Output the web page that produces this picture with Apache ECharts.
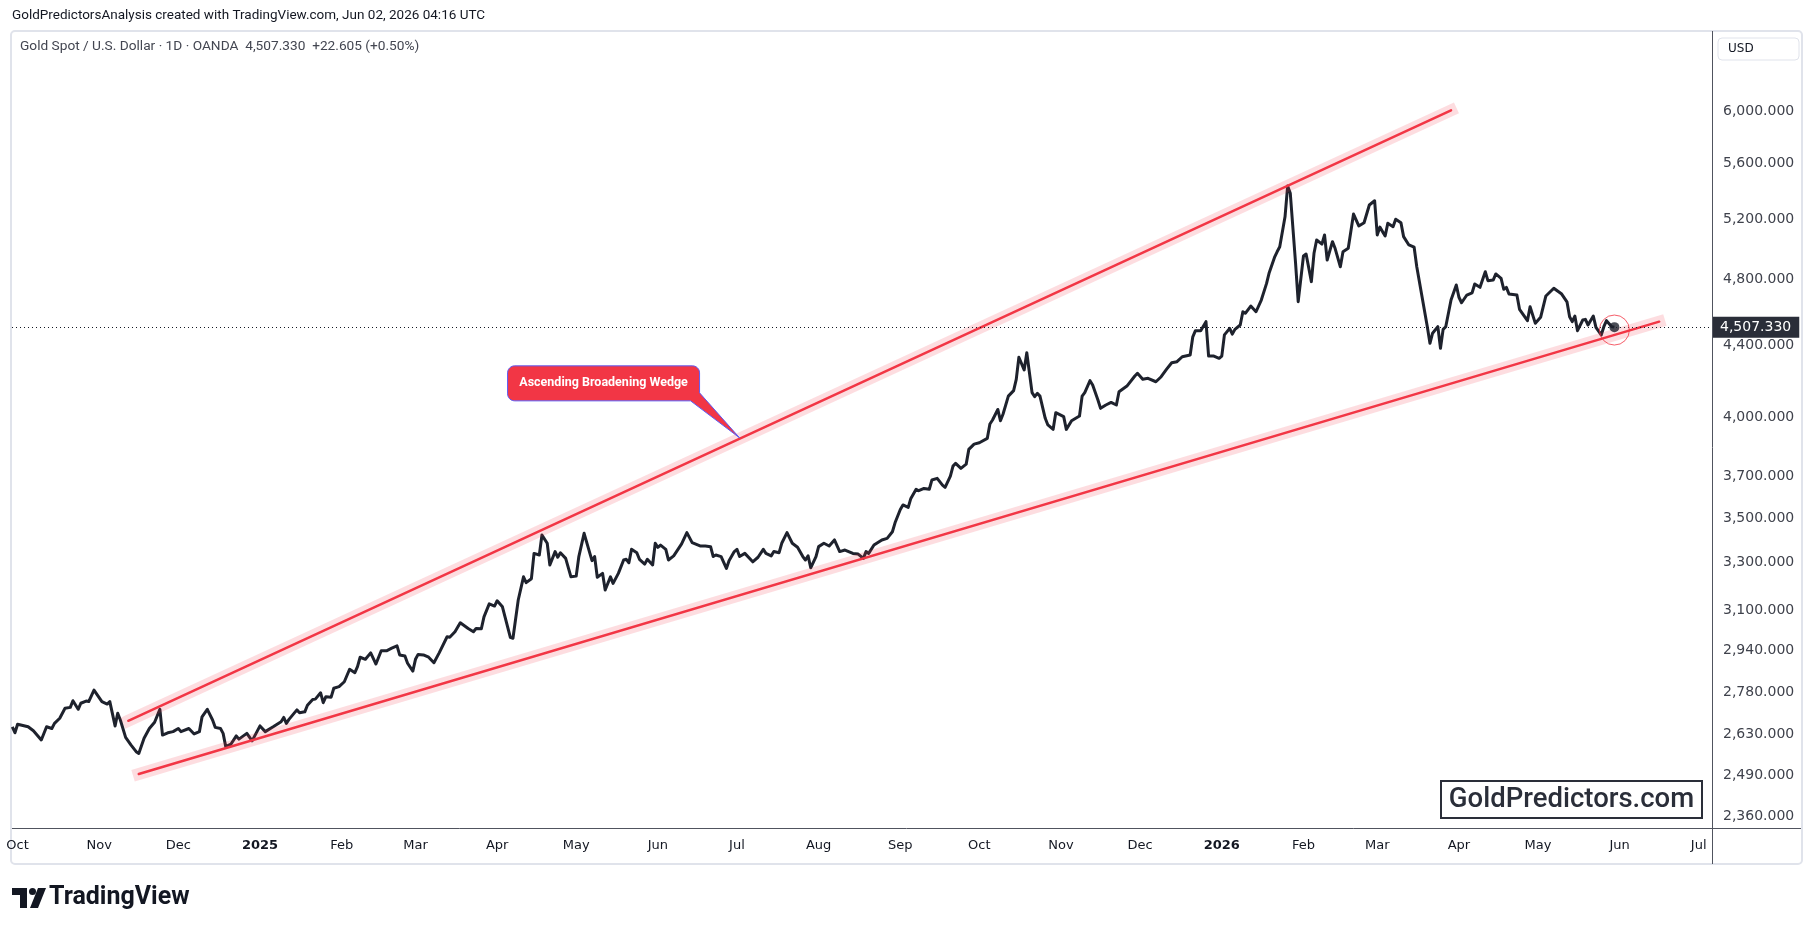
<!DOCTYPE html>
<html>
<head>
<meta charset="utf-8">
<title>Gold Spot / U.S. Dollar</title>
<script src="https://cdn.jsdelivr.net/npm/echarts@6.0.0/dist/echarts.min.js"></script>
<style>
  html, body { margin: 0; padding: 0; background: #ffffff; }
  #chart { width: 1814px; height: 932px; }
</style>
</head>
<body>
<div id="chart"></div>
<script>
// daily close (log price scale)
const dates = [
  '2024-09-29','2024-09-30','2024-10-01','2024-10-05','2024-10-07','2024-10-10','2024-10-12','2024-10-14','2024-10-15','2024-10-17',
  '2024-10-19','2024-10-21','2024-10-22','2024-10-24','2024-10-25','2024-10-27','2024-10-28','2024-10-30','2024-11-02','2024-11-04',
  '2024-11-05','2024-11-07','2024-11-08','2024-11-09','2024-11-11','2024-11-13','2024-11-15','2024-11-16','2024-11-18','2024-11-20',
  '2024-11-22','2024-11-24','2024-11-25','2024-11-27','2024-11-29','2024-12-01','2024-12-02','2024-12-05','2024-12-07','2024-12-09',
  '2024-12-10','2024-12-12','2024-12-14','2024-12-15','2024-12-17','2024-12-18','2024-12-19','2024-12-21','2024-12-23','2024-12-24',
  '2024-12-27','2024-12-29',
  '2025-01-01','2025-01-03','2025-01-06','2025-01-09','2025-01-10','2025-01-11','2025-01-12','2025-01-15','2025-01-16','2025-01-18',
  '2025-01-19','2025-01-21','2025-01-22','2025-01-24','2025-01-25','2025-01-26','2025-01-28','2025-01-29','2025-01-31','2025-02-02',
  '2025-02-04','2025-02-06','2025-02-07','2025-02-08','2025-02-10','2025-02-12','2025-02-14','2025-02-16','2025-02-18','2025-02-20',
  '2025-02-22','2025-02-23','2025-02-25','2025-02-26','2025-02-28','2025-03-01','2025-03-02','2025-03-04','2025-03-06','2025-03-08',
  '2025-03-10','2025-03-13','2025-03-14','2025-03-16','2025-03-18','2025-03-21','2025-03-23','2025-03-24','2025-03-26','2025-03-27',
  '2025-03-29','2025-03-31','2025-04-01','2025-04-03','2025-04-06','2025-04-07','2025-04-09','2025-04-11','2025-04-12','2025-04-14',
  '2025-04-15','2025-04-17','2025-04-18','2025-04-20','2025-04-21','2025-04-23','2025-04-24','2025-04-25','2025-04-27','2025-04-29',
  '2025-05-01','2025-05-02','2025-05-04','2025-05-06','2025-05-07','2025-05-08','2025-05-09','2025-05-11','2025-05-12','2025-05-14',
  '2025-05-15','2025-05-17','2025-05-19','2025-05-20','2025-05-21','2025-05-22','2025-05-24','2025-05-25','2025-05-27','2025-05-28',
  '2025-05-30','2025-05-31','2025-06-01','2025-06-02','2025-06-04','2025-06-05','2025-06-07','2025-06-10','2025-06-12','2025-06-14',
  '2025-06-17','2025-06-19','2025-06-21','2025-06-22','2025-06-23','2025-06-25','2025-06-27','2025-06-28','2025-06-30','2025-07-01',
  '2025-07-02','2025-07-04','2025-07-07','2025-07-09','2025-07-11','2025-07-12','2025-07-14','2025-07-15','2025-07-17','2025-07-18',
  '2025-07-20','2025-07-22','2025-07-24','2025-07-26','2025-07-27','2025-07-28','2025-07-29','2025-07-31','2025-08-01','2025-08-03',
  '2025-08-05','2025-08-07','2025-08-09','2025-08-11','2025-08-14','2025-08-16','2025-08-18','2025-08-19','2025-08-20','2025-08-22',
  '2025-08-25','2025-08-27','2025-08-29','2025-08-30','2025-09-01','2025-09-02','2025-09-04','2025-09-05','2025-09-07','2025-09-08',
  '2025-09-10','2025-09-12','2025-09-13','2025-09-15','2025-09-17','2025-09-18','2025-09-20','2025-09-21','2025-09-22','2025-09-24',
  '2025-09-26','2025-09-27','2025-09-29','2025-10-01','2025-10-04','2025-10-05','2025-10-06','2025-10-08','2025-10-09','2025-10-10',
  '2025-10-12','2025-10-14','2025-10-15','2025-10-16','2025-10-18','2025-10-19','2025-10-21','2025-10-22','2025-10-23','2025-10-24',
  '2025-10-26','2025-10-27','2025-10-29','2025-10-30','2025-11-02','2025-11-03','2025-11-05','2025-11-08','2025-11-09','2025-11-10',
  '2025-11-12','2025-11-13','2025-11-15','2025-11-16','2025-11-18','2025-11-20','2025-11-22','2025-11-23','2025-11-26','2025-11-29',
  '2025-11-30','2025-12-02','2025-12-04','2025-12-07','2025-12-09','2025-12-11','2025-12-13','2025-12-15','2025-12-17','2025-12-20',
  '2025-12-21','2025-12-22','2025-12-24','2025-12-26','2025-12-27','2025-12-29','2025-12-31',
  '2026-01-01','2026-01-02','2026-01-04','2026-01-05','2026-01-06','2026-01-08','2026-01-09','2026-01-10','2026-01-12','2026-01-14',
  '2026-01-16','2026-01-18','2026-01-19','2026-01-21','2026-01-22','2026-01-23','2026-01-25','2026-01-26','2026-01-27','2026-01-29',
  '2026-01-30','2026-02-01','2026-02-02','2026-02-04','2026-02-05','2026-02-06','2026-02-08','2026-02-09','2026-02-10','2026-02-12',
  '2026-02-13','2026-02-15','2026-02-16','2026-02-18','2026-02-20','2026-02-22','2026-02-24','2026-02-26','2026-02-28','2026-03-01',
  '2026-03-02','2026-03-04','2026-03-05','2026-03-07','2026-03-08','2026-03-10','2026-03-11','2026-03-13','2026-03-15','2026-03-16',
  '2026-03-18','2026-03-20','2026-03-21','2026-03-22','2026-03-24','2026-03-25','2026-03-26','2026-03-27','2026-03-29','2026-03-31',
  '2026-04-01','2026-04-02','2026-04-04','2026-04-06','2026-04-07','2026-04-09','2026-04-11','2026-04-12','2026-04-14','2026-04-15',
  '2026-04-17','2026-04-18','2026-04-19','2026-04-20','2026-04-23','2026-04-24','2026-04-27','2026-04-28','2026-04-30','2026-05-02',
  '2026-05-04','2026-05-07','2026-05-10','2026-05-12','2026-05-13','2026-05-14','2026-05-15','2026-05-16','2026-05-18','2026-05-19',
  '2026-05-20','2026-05-22','2026-05-23','2026-05-25','2026-05-26','2026-05-27','2026-05-29','2026-05-30'
];
const closes = [
  2656,2635,2665,2656,2642,2610,2656,2650,2668,2686,
  2722,2725,2749,2718,2740,2748,2746,2788,2746,2737,
  2746,2659,2704,2680,2619,2593,2570,2564,2616,2650,
  2672,2718,2627,2635,2639,2650,2639,2650,2631,2639,
  2691,2718,2680,2654,2650,2633,2587,2596,2624,2613,
  2633,2607,
  2659,2639,2656,2674,2689,2668,2682,2716,2706,2709,
  2733,2754,2755,2778,2742,2764,2762,2795,2801,2819,
  2866,2853,2876,2912,2904,2929,2886,2937,2937,2947,
  2956,2921,2917,2889,2859,2904,2923,2921,2912,2891,
  2929,2992,2990,3012,3048,3025,3012,3025,3024,3072,
  3125,3116,3138,3113,2990,2986,3141,3239,3214,3231,
  3341,3334,3423,3386,3290,3349,3324,3344,3319,3239,
  3242,3327,3431,3349,3309,3327,3237,3254,3183,3239,
  3211,3254,3312,3315,3300,3359,3344,3315,3294,3315,
  3290,3386,3368,3378,3359,3312,3330,3383,3434,3389,
  3374,3374,3371,3327,3334,3327,3275,3309,3349,3359,
  3327,3341,3304,3324,3359,3341,3330,3349,3344,3386,
  3434,3386,3368,3327,3312,3330,3278,3327,3371,3386,
  3374,3401,3349,3356,3341,3338,3319,3349,3341,3378,
  3401,3408,3438,3479,3541,3562,3551,3593,3637,3630,
  3641,3637,3682,3690,3657,3646,3701,3750,3764,3739,
  3760,3834,3861,3868,3890,3965,3986,4042,3982,4018,
  4114,4144,4206,4331,4259,4357,4133,4111,4129,4114,
  3995,3960,3937,4025,4004,3937,3982,4007,4114,4133,
  4199,4175,4093,4048,4066,4080,4066,4138,4169,4225,
  4240,4207,4212,4193,4221,4262,4300,4306,4334,4344,
  4450,4486,4486,4540,4338,4338,4325,
  4338,4461,4500,4466,4494,4520,4600,4591,4635,4600,
  4672,4776,4844,4943,4980,5013,5216,5433,5381,4905,
  4662,4952,4965,4787,4970,5058,5031,5092,4926,5047,
  5003,4882,4980,5003,5235,5153,5175,5298,5328,5092,
  5145,5085,5171,5148,5199,5175,5081,5025,5010,4882,
  4692,4510,4412,4471,4510,4383,4494,4510,4672,4766,
  4689,4655,4703,4717,4772,4751,4850,4793,4797,4836,
  4808,4739,4751,4709,4703,4615,4546,4631,4530,4566,
  4697,4745,4709,4661,4570,4540,4574,4486,4550,4554,
  4520,4574,4506,4461,4510,4546,4510,4507.33
];

// wedge trend lines (two anchor points each)
const upperDates = ['2024-11-12', '2026-03-29'];
const upperPrices = [2677, 6005];
const lowerDates = ['2024-11-16', '2026-06-16'];
const lowerPrices = [2495, 4540];

// axis ticks
const priceTicks = [2360, 2490, 2630, 2780, 2940, 3100, 3300, 3500, 3700, 4000, 4400, 4800, 5200, 5600, 6000];
const monthTicks = [
  '2024-10-01','2024-11-01','2024-12-01','2025-01-01','2025-02-01','2025-03-01','2025-04-01','2025-05-01',
  '2025-06-01','2025-07-01','2025-08-01','2025-09-01','2025-10-01','2025-11-01','2025-12-01','2026-01-01',
  '2026-02-01','2026-03-01','2026-04-01','2026-05-01','2026-06-01','2026-07-01'
];
const monthNames = ['Jan','Feb','Mar','Apr','May','Jun','Jul','Aug','Sep','Oct','Nov','Dec'];

const lastPrice = 4507.33;
const lastDate = dates[dates.length - 1];
const circleMark = ['2026-05-30', 4490];
const calloutAnchor = ['2025-07-02', 3893];

const font = 'Roboto, "Noto Sans", sans-serif';
const scaleFont = '"DejaVu Sans", Roboto, sans-serif';
const toTime = s => new Date(s + 'T00:00:00').getTime();
const fmtPrice = v => Number(v).toLocaleString('en-US', { minimumFractionDigits: 3, maximumFractionDigits: 3 });

const chart = echarts.init(document.getElementById('chart'), null, { renderer: 'canvas' });

function trendSeries(ds, ps) {
  const data = ds.map((d, i) => [toTime(d), ps[i]]);
  return [{
    type: 'line', data: data, symbol: 'none', silent: true, z: 3,
    lineStyle: { color: 'rgba(242,54,69,0.17)', width: 12, cap: 'square' }
  }, {
    type: 'line', data: data, symbol: 'none', silent: true, z: 4,
    lineStyle: { color: '#f23645', width: 2.5, cap: 'round' }
  }];
}

const option = {
  backgroundColor: '#ffffff',
  animation: false,
  textStyle: { fontFamily: font },
  title: [{
    text: 'GoldPredictorsAnalysis created with TradingView.com, Jun 02, 2026 04:16 UTC',
    left: 12, top: 9, padding: 0,
    textStyle: { fontFamily: font, fontSize: 13.5, fontWeight: 'normal', color: '#131722' }
  }, {
    text: 'Gold Spot / U.S. Dollar · 1D · OANDA  4,507.330  +22.605 (+0.50%)',
    left: 20, top: 40, padding: 0,
    textStyle: { fontFamily: font, fontSize: 13.7, fontWeight: 'normal', color: '#434651' }
  }],
  grid: { left: 12, right: 102, top: 32, bottom: 104, outerBoundsMode: 'none' },
  xAxis: {
    type: 'value',
    min: new Date('2024-09-28T21:07:00').getTime(),
    max: new Date('2026-07-06T01:00:00').getTime(),
    axisLine: { show: false },
    axisTick: { show: false },
    splitLine: { show: false },
    axisLabel: {
      customValues: monthTicks.map(toTime),
      margin: 11,
      fontSize: 13,
      color: '#131722',
      fontFamily: scaleFont,
      formatter: function (value) {
        const d = new Date(value);
        return d.getMonth() === 0 ? '{y|' + d.getFullYear() + '}' : monthNames[d.getMonth()];
      },
      rich: { y: { fontSize: 13, fontWeight: 'bold', color: '#131722', fontFamily: scaleFont } }
    }
  },
  yAxis: {
    type: 'log',
    logBase: 10,
    position: 'right',
    min: 2323,
    max: 6661,
    axisLine: { show: false },
    axisTick: { show: false },
    splitLine: { show: false },
    axisLabel: {
      customValues: priceTicks,
      margin: 11,
      fontSize: 14,
      color: '#3f424c',
      fontFamily: scaleFont,
      formatter: v => fmtPrice(v)
    }
  },
  series: [
    {
      type: 'line',
      data: dates.map((d, i) => [toTime(d), closes[i]]),
      symbol: 'none',
      showSymbol: false,
      z: 2,
      lineStyle: { color: '#1e222d', width: 3, join: 'round' },
      markLine: {
        symbol: 'none',
        silent: true,
        animation: false,
        lineStyle: { color: '#131722', width: 1, type: [1, 3] },
        label: {
          show: true, position: 'end', distance: 0,
          formatter: () => fmtPrice(lastPrice),
          backgroundColor: '#2a2e39', color: '#ffffff', fontSize: 14, fontFamily: scaleFont,
          padding: [4, 8, 3, 8]
        },
        data: [{ yAxis: lastPrice }]
      }
    },
    ...trendSeries(upperDates, upperPrices),
    ...trendSeries(lowerDates, lowerPrices),
    {
      type: 'scatter', data: [[toTime(lastDate), lastPrice]], symbolSize: 10, z: 6, silent: true,
      itemStyle: { color: '#1e222d' }
    },
    {
      type: 'scatter', data: [[toTime(circleMark[0]), circleMark[1]]], symbolSize: 30, z: 6, silent: true,
      itemStyle: { color: 'rgba(0,0,0,0)', borderColor: '#f23645', borderWidth: 1 }
    }
  ]
};

chart.setOption(option);

// rounded callout box with a tail ending at the tip (0, 0)
function calloutPoints() {
  const bx = -232, by = -72, right = -40, bottom = -37, r = 7;
  const pts = [];
  const arc = (cx, cy, a0, a1) => {
    for (let k = 0; k <= 6; k++) {
      const a = (a0 + (a1 - a0) * k / 6) * Math.PI / 180;
      pts.push([cx + r * Math.cos(a), cy + r * Math.sin(a)]);
    }
  };
  arc(bx + r, by + r, 180, 270);
  arc(right - r, by + r, 270, 360);
  pts.push([right, -45], [0, 0], [-49, bottom]);
  arc(bx + r, bottom - r, 90, 180);
  return pts;
}

const tip = chart.convertToPixel({ gridIndex: 0 }, [toTime(calloutAnchor[0]), calloutAnchor[1]]);

chart.setOption({
  graphic: [
    // pane frame and scale borders
    { type: 'rect', silent: true, shape: { x: 11, y: 31, width: 1791, height: 833, r: 4 },
      style: { fill: 'none', stroke: '#e0e3eb', lineWidth: 2 }, z: 0 },
    { type: 'line', silent: true, shape: { x1: 1712.5, y1: 31, x2: 1712.5, y2: 864 },
      style: { stroke: '#50535e', lineWidth: 1 }, z: 10 },
    { type: 'line', silent: true, shape: { x1: 12, y1: 828.5, x2: 1801, y2: 828.5 },
      style: { stroke: '#50535e', lineWidth: 1 }, z: 10 },
    // USD box
    { type: 'rect', silent: true, shape: { x: 1718, y: 38, width: 81, height: 22, r: 4 },
      style: { fill: '#ffffff', stroke: '#e0e3eb', lineWidth: 1 }, z: 10 },
    { type: 'text', silent: true, x: 1728, y: 49, z: 11,
      style: { text: 'USD', fill: '#131722', fontSize: 12, fontFamily: scaleFont, verticalAlign: 'middle' } },
    // watermark
    { type: 'rect', silent: true, shape: { x: 1441, y: 781, width: 261, height: 37 },
      style: { fill: '#ffffff', stroke: '#2a2e39', lineWidth: 2 }, z: 10 },
    { type: 'text', silent: true, x: 1571.5, y: 800, z: 11,
      style: { text: 'GoldPredictors.com', fill: '#2a2e39', fontSize: 27.5, fontWeight: 500, fontFamily: font,
        align: 'center', verticalAlign: 'middle' } },
    // TradingView logo
    { type: 'polygon', silent: true, z: 10,
      shape: { points: [[12, 888], [27, 888], [27, 908], [20, 908], [20, 895], [12, 895]] },
      style: { fill: '#131722' } },
    { type: 'circle', silent: true, z: 10, shape: { cx: 32.5, cy: 891.5, r: 3.5 }, style: { fill: '#131722' } },
    { type: 'polygon', silent: true, z: 10,
      shape: { points: [[38, 888], [46, 888], [38, 908], [30, 908]] },
      style: { fill: '#131722' } },
    { type: 'text', silent: true, x: 49, y: 898, z: 10,
      style: { text: 'TradingView', fill: '#131722', fontSize: 25, fontWeight: 'bold', fontFamily: font,
        verticalAlign: 'middle' } },
    // pattern callout
    { type: 'polygon', silent: true, x: tip[0], y: tip[1], z: 20,
      shape: { points: calloutPoints() },
      style: { fill: '#f23645', stroke: '#5b5bf5', lineWidth: 1 } },
    { type: 'text', silent: true, x: tip[0] - 136, y: tip[1] - 54.5, z: 21,
      style: { text: 'Ascending Broadening Wedge', fill: '#ffffff', fontSize: 12.5, fontWeight: 'bold',
        fontFamily: font, align: 'center', verticalAlign: 'middle' } }
  ]
});
</script>
</body>
</html>
